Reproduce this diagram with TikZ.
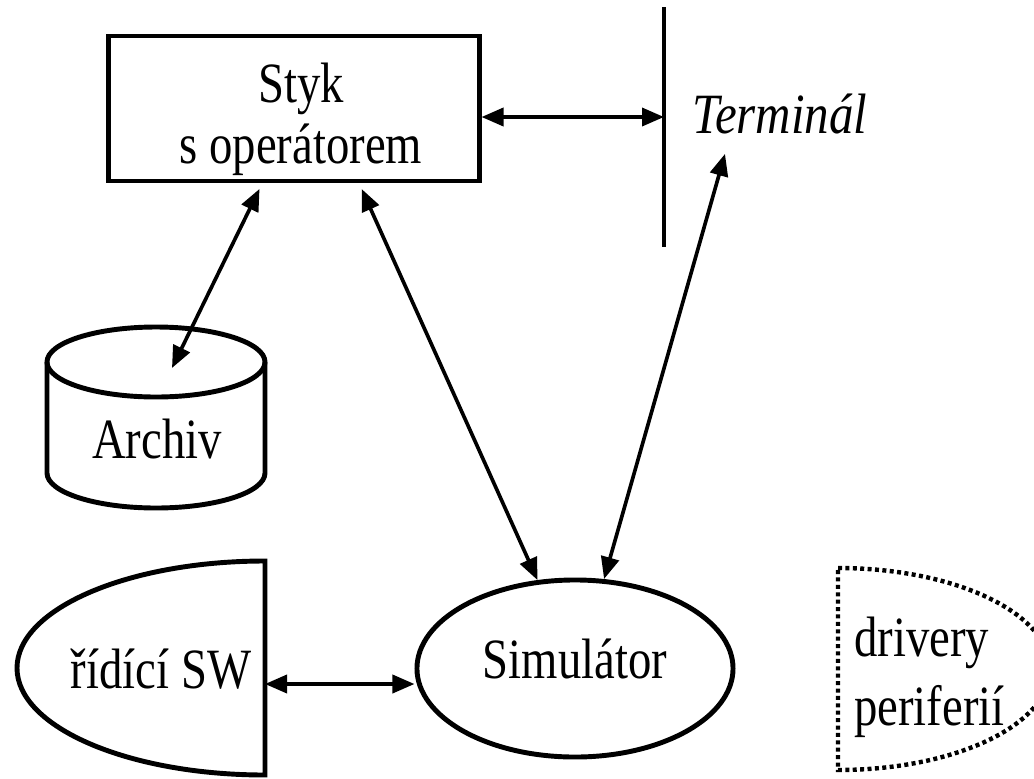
\documentclass[tikz,border=0pt]{standalone}
\usepackage{fontspec}
\setmainfont{Liberation Serif}[FakeStretch=0.82]
\newfontfamily\termfont{Liberation Serif}[FakeStretch=0.86]
\usetikzlibrary{shapes.geometric, arrows.meta, calc}

\begin{document}
\begin{tikzpicture}[x=0.025cm, y=0.025cm,
		>={Triangle[length=0.55cm,width=0.45cm]},
		outline/.style={line width=3.5pt},
		dotline/.style={line width=0.11cm, dash pattern=on 0.1cm off 0.085cm},
		link/.style={line width=2.6pt, <->},
		lbl/.style={inner sep=0pt, font=\fontsize{40.5}{48}\selectfont}]
		\useasboundingbox (0,0) rectangle (1034,-778);
		\clip (0,0) rectangle (1034,-778);

		\node[draw, outline, inner sep=0pt, minimum width=9.25cm, minimum height=3.625cm] (styk) at (294,-108.5) {};
		\node[lbl, align=center, font=\fontsize{40.5}{43.4}\selectfont] (stykt) at (301,-119) {Styk\\s operátorem};

		\draw[outline] (664,-7) coordinate (bartop) -- (664,-247) coordinate (barbot);
		\coordinate (barmid) at (664,-117);
		\node[lbl, anchor=base west] (term) at (692,-133) {\termfont\itshape Terminál};

		\draw[outline] (47,-362) -- (47,-473) arc[start angle=180, end angle=360, x radius=109, y radius=35] -- (265,-362);
		\draw[outline] (156,-362) ellipse [x radius=109, y radius=35];
		\coordinate (archtop) at (172,-368);
		\node[lbl, anchor=base] (archiv) at (157,-458) {Archiv};

		\draw[outline] (265,-561) arc[start angle=90, end angle=270, x radius=248, y radius=107] -- cycle;
		\coordinate (swedge) at (265,-684);
		\node[lbl, anchor=base] (sw) at (161,-688) {řídící SW};

		\node[draw, outline, ellipse, inner sep=0pt, minimum width=7.9cm, minimum height=4.425cm] (sim) at (575,-668.5) {};
		\node[lbl, anchor=base] (simt) at (575,-678) {Simulátor};

		\draw[dotline] (838,-568) arc[start angle=90, end angle=-90, x radius=212, y radius=101] -- cycle;
		\node[lbl, anchor=base west] (drv) at (854,-656) {drivery};
		\node[lbl, anchor=base west] (per) at (854,-725) {periferií};

		\draw[link] (styk.east |- barmid) -- (barmid);
		\draw[link, shorten <=0.15cm] (styk.-113) -- (archtop);
		\draw[link, shorten <=0.15cm] (styk.-49) -- (sim.113);
		\draw[link] ([shift={(33,-20)}]term.south west) -- (sim.72);
		\draw[link] (swedge) -- (swedge -| sim.west);
	\end{tikzpicture}
\end{document}
